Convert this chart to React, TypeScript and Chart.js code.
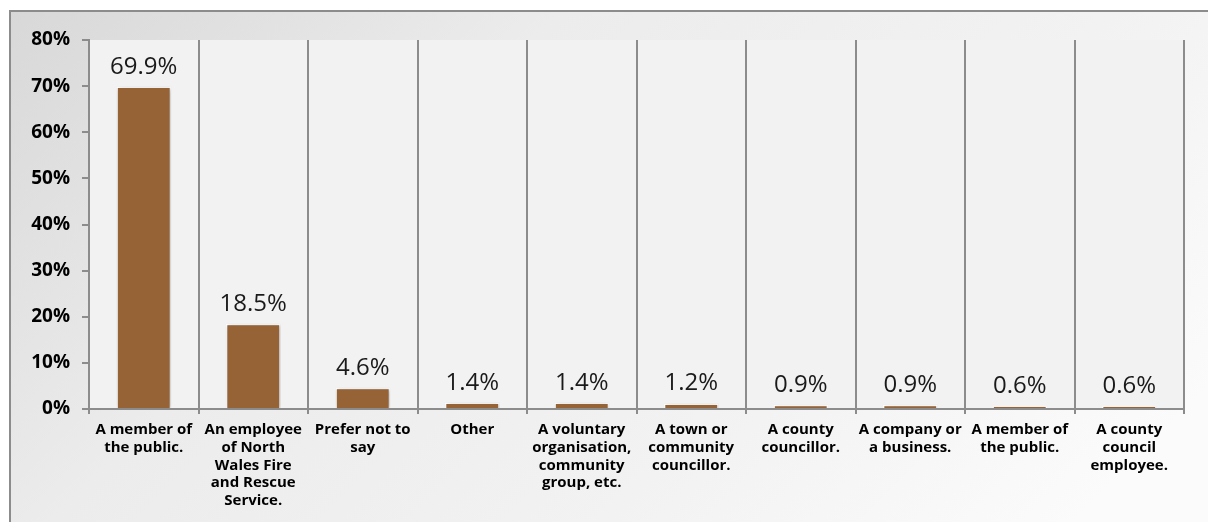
import React, { useEffect, useRef } from "react";
import { Chart, registerables } from "chart.js";

Chart.register(...registerables);

const categories: string[][] = [
  ["A member of", "the public."],
  ["An employee", "of North", "Wales Fire", "and Rescue", "Service."],
  ["Prefer not to", "say"],
  ["Other"],
  ["A voluntary", "organisation,", "community", "group, etc."],
  ["A town or", "community", "councillor."],
  ["A county", "councillor."],
  ["A company or", "a business."],
  ["A member of", "the public."],
  ["A county", "council", "employee."],
];

const values: number[] = [69.9, 18.5, 4.6, 1.4, 1.4, 1.2, 0.9, 0.9, 0.6, 0.6];

const yTicks: number[] = [0, 10, 20, 30, 40, 50, 60, 70, 80];

const FONT = "'Open Sans', 'Noto Sans', sans-serif";
const GRID = "#8c8c8c";

const backgroundPlugin = {
  id: "bgPlugin",
  beforeDraw(chart: any) {
    const { ctx, width, height, chartArea } = chart;
    ctx.save();
    ctx.fillStyle = "#ffffff";
    ctx.fillRect(0, 0, width, height);
    const g = ctx.createLinearGradient(10, 10, 800, 800);
    g.addColorStop(0, "#d8d8d8");
    g.addColorStop(0.35, "#ececec");
    g.addColorStop(0.7, "#f2f2f2");
    g.addColorStop(1, "#fbfbfb");
    ctx.fillStyle = g;
    ctx.fillRect(10, 11, width - 10, height - 11);
    ctx.strokeStyle = GRID;
    ctx.lineWidth = 2;
    ctx.beginPath();
    ctx.moveTo(10, height + 5);
    ctx.lineTo(10, 11);
    ctx.lineTo(width + 5, 11);
    ctx.stroke();
    ctx.fillStyle = "#f2f2f2";
    ctx.fillRect(
      chartArea.left,
      chartArea.top,
      chartArea.right - chartArea.left,
      chartArea.bottom - chartArea.top
    );
    ctx.restore();
  },
  beforeDatasetsDraw(chart: any) {
    const ctx = chart.ctx;
    ctx.save();
    ctx.shadowColor = "rgba(0,0,0,0.28)";
    ctx.shadowBlur = 4;
    ctx.shadowOffsetX = 1;
    ctx.shadowOffsetY = 1;
  },
  afterDatasetsDraw(chart: any) {
    const ctx = chart.ctx;
    ctx.restore();
    const meta = chart.getDatasetMeta(0);
    ctx.save();
    ctx.fillStyle = "#1a1a1a";
    ctx.font = `24px ${FONT}`;
    ctx.textAlign = "center";
    ctx.textBaseline = "alphabetic";
    meta.data.forEach((bar: any, i: number) => {
      const v = chart.data.datasets[0].data[i];
      ctx.fillText(v.toFixed(1) + "%", bar.x, bar.y - 13);
    });
    ctx.restore();
  },
};

export default function App() {
  const ref = useRef<HTMLCanvasElement | null>(null);

  useEffect(() => {
    if (!ref.current) return;
    const chart = new Chart(ref.current, {
      type: "bar",
      data: {
        labels: categories,
        datasets: [
          {
            data: values,
            backgroundColor: "#956336",
            borderColor: "#ffffff",
            borderWidth: 1.5,
            barPercentage: 0.5,
            categoryPercentage: 1,
          },
        ],
      },
      options: {
        responsive: false,
        animation: false,
        layout: { padding: { left: 10, top: 40, right: 24, bottom: 0 } },
        plugins: {
          legend: { display: false },
          tooltip: { enabled: false },
        },
        scales: {
          x: {
            offset: true,
            grid: {
              display: true,
              offset: true,
              color: GRID,
              lineWidth: 2,
              drawOnChartArea: true,
              drawTicks: true,
              tickLength: 5,
            },
            border: { display: true, color: GRID, width: 2 },
            ticks: {
              color: "#000000",
              font: { family: FONT, size: 15, weight: "bold", lineHeight: 1.18 },
              padding: 7,
              maxRotation: 0,
              autoSkip: false,
            },
            afterFit: (scale: any) => {
              scale.height = 113;
            },
          },
          y: {
            min: 0,
            max: 80,
            afterBuildTicks: (scale: any) => {
              scale.ticks = yTicks.map((v) => ({ value: v }));
            },
            grid: {
              display: true,
              drawOnChartArea: false,
              drawTicks: true,
              tickLength: 7,
              color: GRID,
              lineWidth: 2,
            },
            border: { display: true, color: GRID, width: 2 },
            ticks: {
              color: "#000000",
              font: { family: FONT, size: 19, weight: "bold" },
              padding: 12,
              callback: (v: any) => v + "%",
            },
            afterFit: (scale: any) => {
              scale.width = 79;
            },
          },
        },
      },
      plugins: [backgroundPlugin],
    });
    return () => chart.destroy();
  }, []);

  return (
    <div style={{ position: "absolute", left: 0, top: 0, width: 1208, height: 522 }}>
      <canvas ref={ref} width={1208} height={522} style={{ display: "block" }} />
    </div>
  );
}
